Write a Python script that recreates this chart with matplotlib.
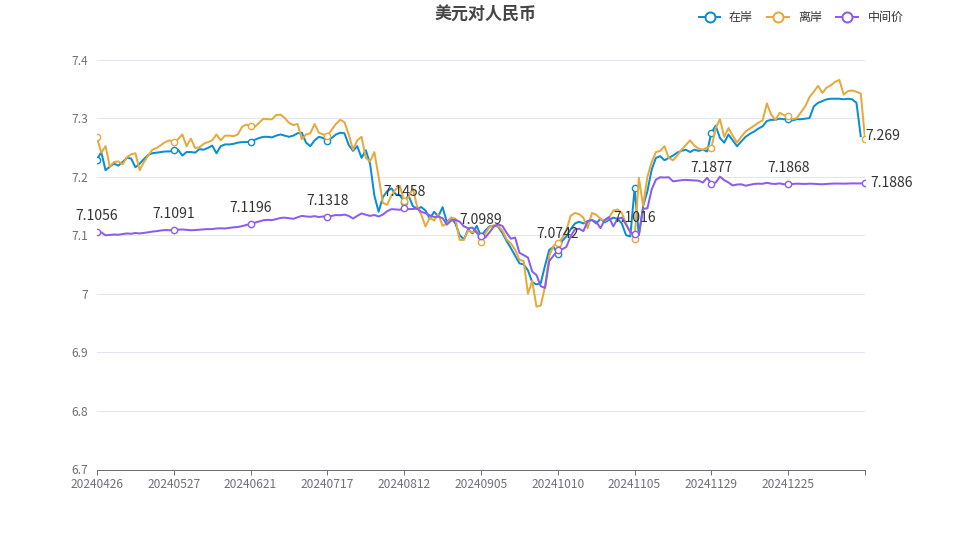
import numpy as np
import matplotlib
matplotlib.use('Agg')
import matplotlib.pyplot as plt
from matplotlib.lines import Line2D

plt.rcParams['font.family'] = ['Noto Sans CJK SC', 'DejaVu Sans']

title = '美元对人民币'
series_names = ['在岸', '离岸', '中间价']
tick_dates = ['20240426', '20240527', '20240621', '20240717', '20240812',
              '20240905', '20241010', '20241105', '20241129', '20241225']
label_step = 18
y_ticks = [6.7, 6.8, 6.9, 7.0, 7.1, 7.2, 7.3, 7.4]

onshore = [
    7.229, 7.242, 7.211, 7.217, 7.222, 7.219, 7.225, 7.232, 7.231, 7.216, 7.222, 7.230, 7.237, 7.240, 7.241, 7.242, 7.243, 7.243, 7.245,
    7.246, 7.236, 7.242, 7.242, 7.241, 7.247, 7.246, 7.249, 7.253, 7.240, 7.252, 7.255, 7.255, 7.256, 7.258, 7.259, 7.259, 7.260,
    7.263, 7.266, 7.268, 7.268, 7.267, 7.270, 7.272, 7.270, 7.268, 7.270, 7.274, 7.275, 7.258, 7.252, 7.262, 7.268, 7.266, 7.261,
    7.266, 7.272, 7.275, 7.274, 7.254, 7.244, 7.252, 7.232, 7.245, 7.222, 7.168, 7.140, 7.165, 7.175, 7.180, 7.170, 7.168, 7.157,
    7.168, 7.150, 7.145, 7.148, 7.142, 7.128, 7.140, 7.132, 7.148, 7.122, 7.130, 7.120, 7.100, 7.093, 7.110, 7.103, 7.116, 7.098,
    7.108, 7.115, 7.116, 7.115, 7.104, 7.090, 7.078, 7.065, 7.052, 7.050, 7.040, 7.020, 7.016, 7.018, 7.048, 7.075, 7.080, 7.068,
    7.090, 7.098, 7.110, 7.120, 7.123, 7.120, 7.124, 7.126, 7.120, 7.128, 7.122, 7.126, 7.130, 7.128, 7.120, 7.100, 7.098, 7.180,
    7.100, 7.150, 7.175, 7.212, 7.232, 7.235, 7.228, 7.232, 7.236, 7.241, 7.244, 7.246, 7.242, 7.246, 7.244, 7.246, 7.243, 7.275,
    7.287, 7.266, 7.258, 7.272, 7.262, 7.252, 7.260, 7.268, 7.273, 7.277, 7.282, 7.286, 7.295, 7.297, 7.297, 7.299, 7.298, 7.299,
    7.296, 7.298, 7.298, 7.299, 7.300, 7.320, 7.326, 7.329, 7.332, 7.333, 7.333, 7.333, 7.332, 7.333, 7.332, 7.326, 7.269, None,
]
offshore = [
    7.267, 7.241, 7.252, 7.217, 7.225, 7.226, 7.221, 7.233, 7.238, 7.240, 7.211, 7.225, 7.236, 7.246, 7.249, 7.254, 7.259, 7.262, 7.259,
    7.264, 7.272, 7.252, 7.265, 7.249, 7.250, 7.256, 7.259, 7.262, 7.272, 7.262, 7.270, 7.270, 7.269, 7.272, 7.285, 7.289, 7.286,
    7.285, 7.292, 7.299, 7.298, 7.298, 7.305, 7.306, 7.300, 7.292, 7.288, 7.290, 7.264, 7.272, 7.274, 7.290, 7.275, 7.272, 7.270,
    7.280, 7.290, 7.297, 7.293, 7.272, 7.246, 7.262, 7.268, 7.232, 7.226, 7.242, 7.200, 7.155, 7.152, 7.168, 7.178, 7.184, 7.158,
    7.165, 7.180, 7.150, 7.135, 7.115, 7.130, 7.125, 7.136, 7.116, 7.120, 7.130, 7.128, 7.092, 7.092, 7.108, 7.105, 7.108, 7.088,
    7.103, 7.114, 7.117, 7.116, 7.108, 7.093, 7.086, 7.075, 7.058, 7.056, 7.000, 7.022, 6.978, 6.980, 7.012, 7.065, 7.082, 7.086,
    7.095, 7.108, 7.133, 7.138, 7.136, 7.130, 7.112, 7.138, 7.135, 7.128, 7.124, 7.130, 7.142, 7.144, 7.138, 7.120, 7.105, 7.094,
    7.198, 7.150, 7.200, 7.225, 7.242, 7.244, 7.252, 7.232, 7.228, 7.236, 7.246, 7.254, 7.262, 7.253, 7.248, 7.246, 7.250, 7.249,
    7.283, 7.298, 7.268, 7.283, 7.270, 7.258, 7.268, 7.277, 7.282, 7.287, 7.292, 7.296, 7.325, 7.306, 7.297, 7.309, 7.305, 7.303,
    7.298, 7.300, 7.310, 7.320, 7.336, 7.345, 7.355, 7.343, 7.352, 7.356, 7.362, 7.365, 7.340, 7.346, 7.347, 7.345, 7.342, 7.265,
]
central = [
    7.1056, 7.1050, 7.0998, 7.1005, 7.1012, 7.1008, 7.1020, 7.1030, 7.1025, 7.1038, 7.1030, 7.1040, 7.1050, 7.1062, 7.1070, 7.1081, 7.1088, 7.1085, 7.1091,
    7.1094, 7.1098, 7.1092, 7.1085, 7.1088, 7.1094, 7.1100, 7.1104, 7.1104, 7.1115, 7.1118, 7.1115, 7.1125, 7.1135, 7.1140, 7.1155, 7.1175, 7.1196,
    7.1215, 7.1235, 7.1255, 7.1262, 7.1258, 7.1275, 7.1295, 7.1300, 7.1290, 7.1280, 7.1305, 7.1330, 7.1320, 7.1315, 7.1325, 7.1310, 7.1320, 7.1318,
    7.1330, 7.1345, 7.1340, 7.1352, 7.1330, 7.1285, 7.1330, 7.1372, 7.1350, 7.1330, 7.1345, 7.1320, 7.1352, 7.1410, 7.1445, 7.1440, 7.1435, 7.1458,
    7.1445, 7.1448, 7.1455, 7.1400, 7.1375, 7.1340, 7.1310, 7.1320, 7.1290, 7.1180, 7.1250, 7.1265, 7.1230, 7.1150, 7.1120, 7.1130, 7.1040, 7.0989,
    7.0960, 7.1050, 7.1150, 7.1185, 7.1160, 7.1040, 7.0940, 7.0960, 7.0700, 7.0660, 7.0620, 7.0380, 7.0320, 7.0130, 7.0100, 7.0560, 7.0650, 7.0742,
    7.0760, 7.0800, 7.0980, 7.1100, 7.1110, 7.1070, 7.1240, 7.1260, 7.1230, 7.1120, 7.1260, 7.1310, 7.1150, 7.1280, 7.1300, 7.1180, 7.1050, 7.1016,
    7.1010, 7.1450, 7.1460, 7.1780, 7.1950, 7.1990, 7.1985, 7.1990, 7.1920, 7.1930, 7.1940, 7.1945, 7.1940, 7.1935, 7.1930, 7.1900, 7.1980, 7.1877,
    7.1900, 7.2000, 7.1940, 7.1900, 7.1850, 7.1865, 7.1870, 7.1845, 7.1860, 7.1875, 7.1880, 7.1878, 7.1895, 7.1880, 7.1875, 7.1885, 7.1870, 7.1868,
    7.1875, 7.1880, 7.1878, 7.1875, 7.1880, 7.1878, 7.1872, 7.1870, 7.1875, 7.1880, 7.1882, 7.1882, 7.1880, 7.1883, 7.1885, 7.1884, 7.1885, 7.1886,
]

colors = ['#0a8ed2', '#e6a93c', '#8a5cf2']
W, H = 960, 540
PX = 0.72  # points per pixel at dpi 100

fig = plt.figure(figsize=(W / 100, H / 100), dpi=100)
L, R, T, B = 97, 865, 59.5, 469.5
ax = fig.add_axes([L / W, 1 - B / H, (R - L) / W, (B - T) / H])

all_series = [np.array(onshore, dtype=float), np.array(offshore, dtype=float),
              np.array(central, dtype=float)]
n = len(central)
x = np.arange(n)

for k, (vals, c) in enumerate(zip(all_series, colors)):
    ax.plot(x, vals, color=c, lw=2 * PX, zorder=3 + k,
            marker='o', markevery=slice(0, None, label_step),
            markersize=4.5 * PX / 0.72 * 0.72 * 1.4, markerfacecolor='white',
            markeredgecolor=c, markeredgewidth=1.4 * PX, solid_joinstyle='round')

# labels on the central parity points
cv = all_series[2]
for i in range(0, n - 1, label_step):
    ax.annotate(f'{cv[i]:.4f}', (x[i], cv[i]), xytext=(0, 16 * PX),
                textcoords='offset points', ha='center', va='center',
                fontsize=14 * PX, color='#333333', zorder=10)

# end labels
def fmt(v):
    return f'{v:.4f}'.rstrip('0').rstrip('.')

on = all_series[0]
last_on = np.where(~np.isnan(on))[0][-1]
ax.annotate(fmt(on[last_on]), (x[last_on], on[last_on]), xytext=(5 * PX, 0),
            textcoords='offset points', ha='left', va='center',
            fontsize=14 * PX, color='#333333', annotation_clip=False, zorder=10)
ax.annotate(fmt(cv[-1]), (x[-1], cv[-1]), xytext=(5 * PX, 0),
            textcoords='offset points', ha='left', va='center',
            fontsize=14 * PX, color='#333333', annotation_clip=False, zorder=10)

ax.set_xlim(0, n - 1)
ax.set_ylim(y_ticks[0], y_ticks[-1])
ax.set_yticks(y_ticks)
ax.set_yticklabels([f'{v:g}' for v in y_ticks])
tick_pos = list(range(0, n, label_step))
ax.set_xticks(tick_pos)
ax.set_xticklabels(tick_dates + [''] * (len(tick_pos) - len(tick_dates)))

ax.tick_params(axis='y', length=0, pad=9 * PX, labelsize=12 * PX, labelcolor='#6e7079')
ax.tick_params(axis='x', length=5 * PX, width=1 * PX, color='#6e7079', pad=3 * PX,
               labelsize=12 * PX, labelcolor='#6e7079', direction='out')
for s in ['top', 'right', 'left']:
    ax.spines[s].set_visible(False)
ax.spines['bottom'].set_color('#6e7079')
ax.spines['bottom'].set_linewidth(1 * PX)
ax.yaxis.grid(True, color='#e0e6f1', lw=1 * PX, zorder=0)
ax.set_axisbelow(True)

# title
fig.text(485 / W, 1 - 15 / H, title, ha='center', va='center',
         fontsize=17 * PX, fontweight='bold', color='#464646')

# legend
leg_y = 1 - 17 / H
legend_items = [(699, 720, 709.5, 729), (767, 789, 778, 798), (836, 858, 847, 868)]
for (x0, x1, cx, tx), c, name in zip(legend_items, colors, series_names):
    fig.add_artist(Line2D([x0 / W, x1 / W], [leg_y, leg_y], transform=fig.transFigure,
                          color=c, lw=2 * PX))
    fig.add_artist(Line2D([cx / W], [leg_y], transform=fig.transFigure, marker='o',
                          markersize=10 * PX, markerfacecolor='white',
                          markeredgecolor=c, markeredgewidth=2 * PX))
    fig.text(tx / W, leg_y, name, ha='left', va='center', fontsize=12 * PX, color='#333333')

fig.savefig('out.png', dpi=100)
